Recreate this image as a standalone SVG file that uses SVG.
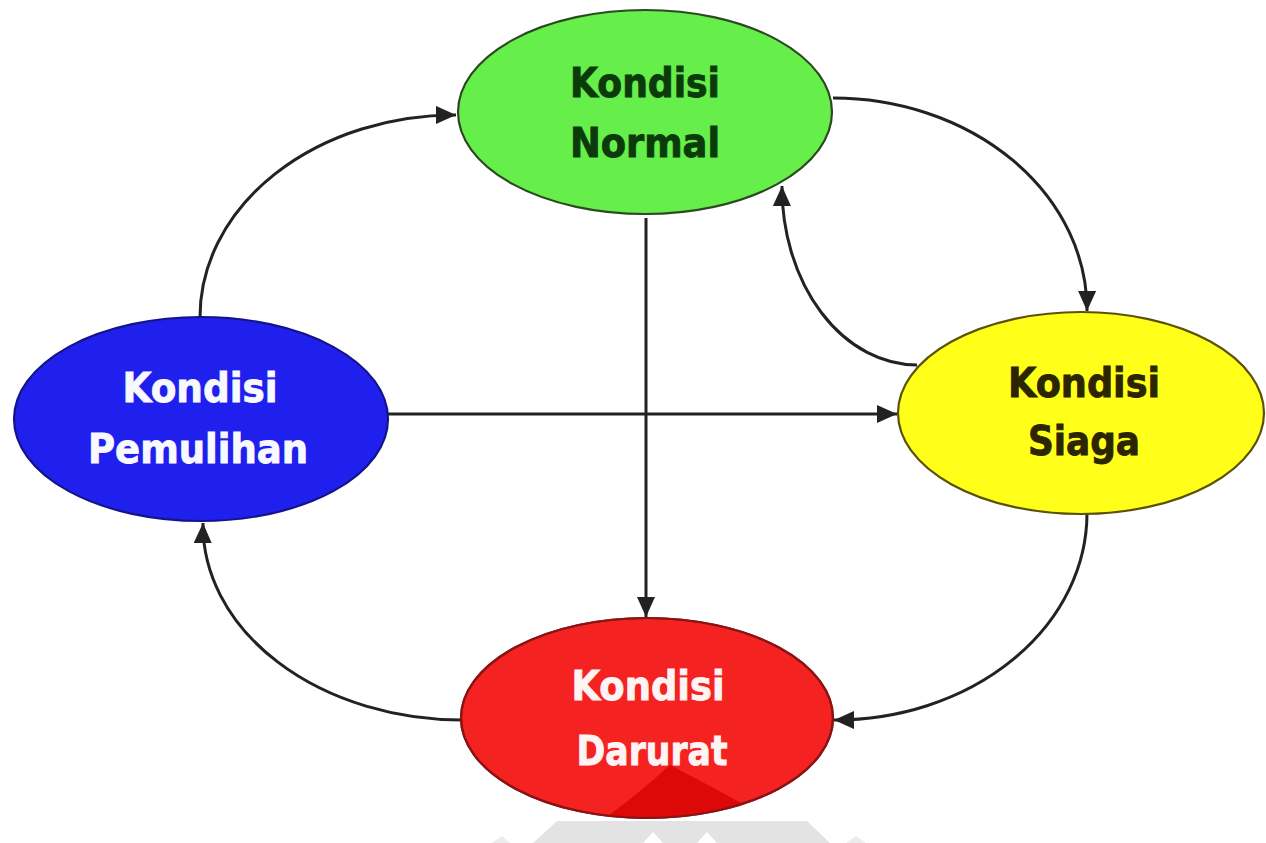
<svg xmlns="http://www.w3.org/2000/svg" width="1266" height="843" viewBox="0 0 1266 843">
  <defs>
    <marker id="arr" markerUnits="userSpaceOnUse" markerWidth="24" markerHeight="20" refX="20" refY="9" orient="auto">
      <path d="M0,0 L20,9 L0,18 z" fill="#222"/>
    </marker>
    <clipPath id="redClip">
      <ellipse cx="647" cy="718" rx="186" ry="100"/>
    </clipPath>
  </defs>
  <style>
    .lbl { font-family: "DejaVu Sans Condensed", "DejaVu Sans", "Liberation Sans", sans-serif; font-weight: bold; font-size: 40px; text-anchor: middle; stroke-width: 0.8; }
    .edge { fill: none; stroke: #222; stroke-width: 3; marker-end: url(#arr); }
    .node { stroke-width: 2.2; }
  </style>
  <rect width="1266" height="843" fill="#ffffff"/>

  <!-- faint watermark -->
  <g id="watermark">
    <path d="M533,843 L557,821 L807,821 L830,843 Z" fill="#e3e3e3"/>
    <path d="M643,843 L653,832 L663,843 Z" fill="#ffffff"/>
    <path d="M697,843 L707,832 L717,843 Z" fill="#ffffff"/>
    <path d="M492,843 L502,836 L510,843 Z" fill="#ececec"/>
    <path d="M846,843 L856,836 L866,843 Z" fill="#ececec"/>
  </g>

  <g id="connectors">
    <path class="edge" d="M200,317 A255,202 0 0 1 456,115"/>
    <path class="edge" d="M833,98 A254,212 0 0 1 1087,311"/>
    <path class="edge" d="M917,365 A135,178 0 0 1 782,186"/>
    <path class="edge" d="M646,218 L646,617"/>
    <path class="edge" d="M388,414 L897,414"/>
    <path class="edge" d="M1087,513 A252,207 0 0 1 834,720"/>
    <path class="edge" d="M462,720 A259,195 0 0 1 203,523"/>
  </g>

  <g id="node-normal">
    <ellipse class="node" cx="645" cy="112" rx="187" ry="102" fill="#66ee4a" stroke="#2c4a22"/>
    <text class="lbl" x="645" y="97" fill="#0b3a0b" stroke="#0b3a0b" textLength="150" lengthAdjust="spacingAndGlyphs">Kondisi</text>
    <text class="lbl" x="645" y="157" fill="#0b3a0b" stroke="#0b3a0b" textLength="150" lengthAdjust="spacingAndGlyphs">Normal</text>
  </g>

  <g id="node-pemulihan">
    <ellipse class="node" cx="201" cy="419" rx="187" ry="102" fill="#2020ee" stroke="#14148a"/>
    <text class="lbl" x="200" y="402" fill="#f8f8ff" stroke="#f8f8ff" textLength="155" lengthAdjust="spacingAndGlyphs">Kondisi</text>
    <text class="lbl" x="198" y="463" fill="#f8f8ff" stroke="#f8f8ff" textLength="220" lengthAdjust="spacingAndGlyphs">Pemulihan</text>
  </g>

  <g id="node-siaga">
    <ellipse class="node" cx="1081" cy="413" rx="183" ry="101" fill="#ffff1a" stroke="#5a5208"/>
    <text class="lbl" x="1084" y="397" fill="#2b2500" stroke="#2b2500" textLength="152" lengthAdjust="spacingAndGlyphs">Kondisi</text>
    <text class="lbl" x="1084" y="455" fill="#2b2500" stroke="#2b2500" textLength="112" lengthAdjust="spacingAndGlyphs">Siaga</text>
  </g>

  <g id="node-darurat">
    <ellipse class="node" cx="647" cy="718" rx="186" ry="100" fill="#f52222" stroke="#8a1414"/>
    <path clip-path="url(#redClip)" d="M670,765 Q632,800 588,830 L790,830 Q722,792 670,765 Z" fill="#dd0808"/>
    <ellipse cx="647" cy="718" rx="186" ry="100" fill="none" stroke="#8a1414" stroke-width="2.2"/>
    <text class="lbl" x="648" y="700" fill="#fff4f4" stroke="#fff4f4" textLength="153" lengthAdjust="spacingAndGlyphs">Kondisi</text>
    <text class="lbl" x="652" y="765" fill="#fff4f4" stroke="#fff4f4" textLength="151" lengthAdjust="spacingAndGlyphs">Darurat</text>
  </g>
</svg>
